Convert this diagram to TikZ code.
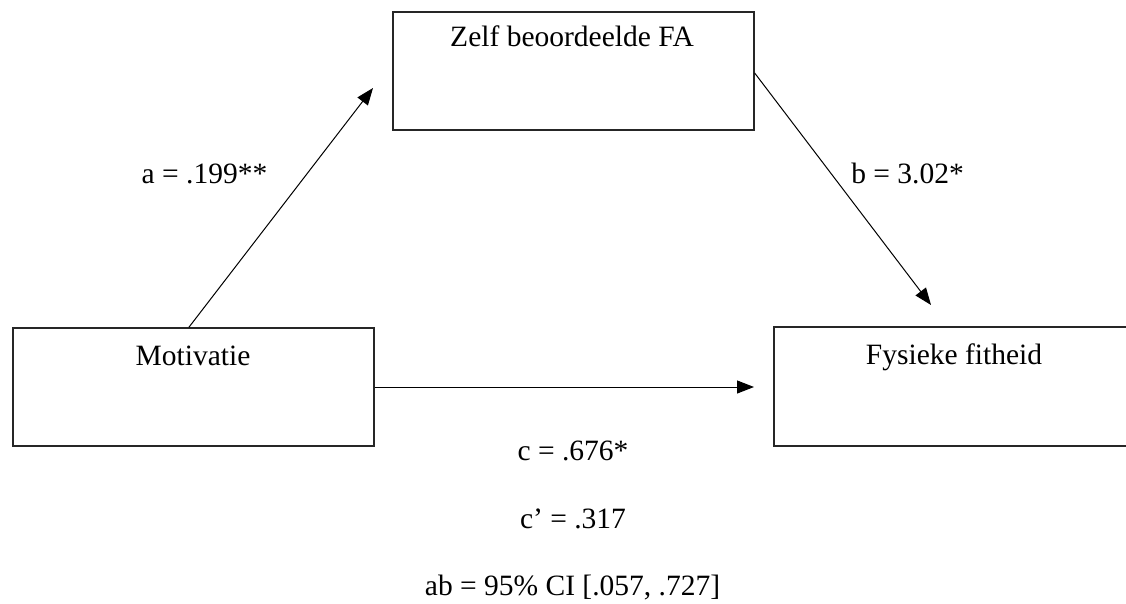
\documentclass[tikz,border=0pt]{standalone}
\usepackage{fontspec}
\setmainfont{Liberation Serif}
\usetikzlibrary{arrows.meta}

\begin{document}
\begin{tikzpicture}[x=1pt, y=-1pt,
  box/.style={draw=black!85, line width=1.3pt, rectangle, inner sep=0pt,
              minimum width=361pt, minimum height=118pt},
  txt/.style={inner sep=0pt, anchor=base, font=\fontsize{29.5}{35}\selectfont},
  arr/.style={draw=black, line width=1pt, -{Triangle[length=17pt, width=13pt]}}]
  \useasboundingbox (0,0) rectangle (1126,604);

  % variable boxes
  \node[box] (zelf)   at (573.5, 71) {};
  \node[box] (motiv)  at (193.5, 387) {};
  \node[box, minimum height=119pt] (fys) at (954.5, 386.5) {};

  % box titles
  \node[txt] (zelfT)  at (572, 47)  {Zelf beoordeelde FA};
  \node[txt] (motivT) at (193, 365) {Motivatie};
  \node[txt] (fysT)   at (954, 364) {Fysieke fitheid};

  % free arrow ends
  \coordinate (aTip) at (373, 88);
  \coordinate (bTip) at (931, 305);
  \coordinate (cTip) at (754, 387);

  % paths
  \draw[arr] ([xshift=176.5pt]motiv.north west) -- (aTip);
  \draw[arr] ([yshift=-2pt]zelf.east) -- (bTip);
  \draw[arr] (motiv.east) -- (cTip);

  % path coefficients
  \node[txt] (aLab)  at (204.5, 183) {a = .199**};
  \node[txt] (bLab)  at (907.5, 183) {b = 3.02*};
  \node[txt] (cLab)  at (573, 460)   {c = .676*};
  \node[txt] (cpLab) at (573, 528)   {c’ = .317};
  \node[txt] (abLab) at (572.5, 595) {ab = 95\% CI [.057, .727]};
\end{tikzpicture}
\end{document}
